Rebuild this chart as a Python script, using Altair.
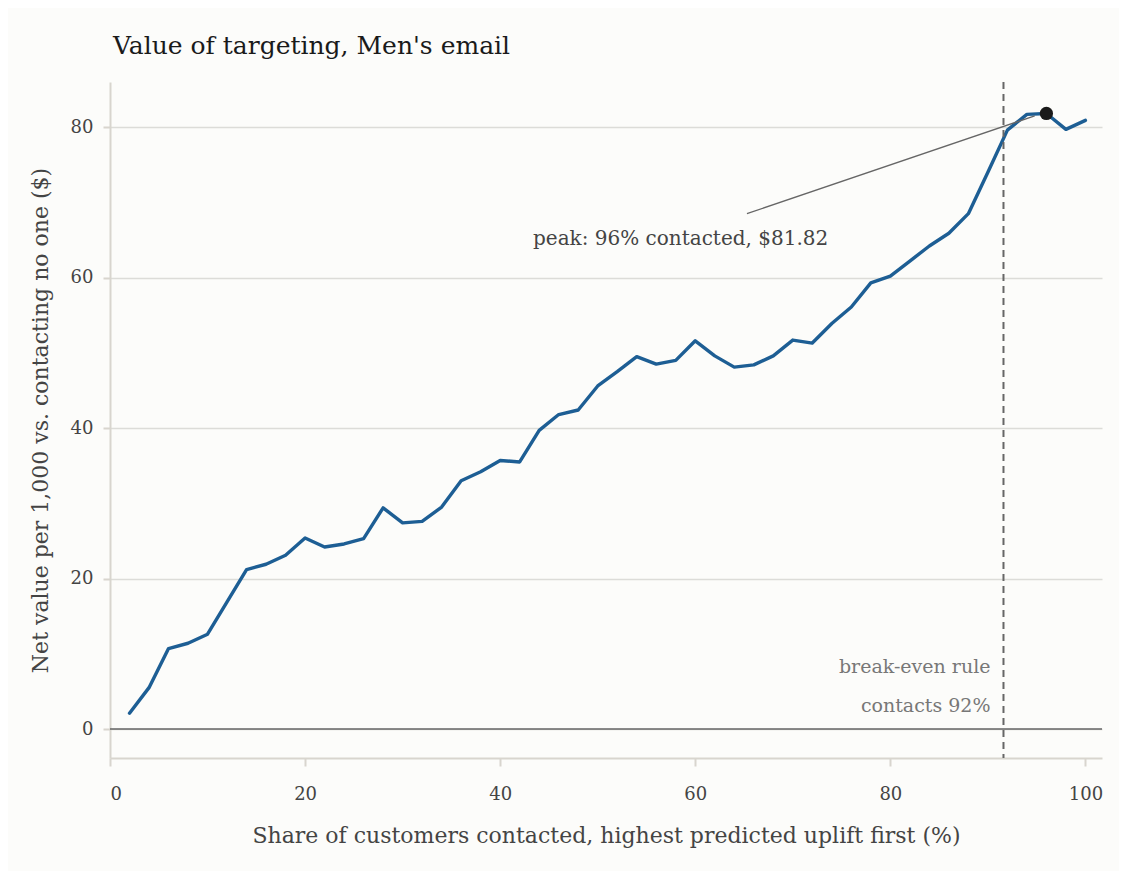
import altair as alt
import pandas as pd

share = list(range(2, 101, 2))
net_value = [2.1, 5.5, 10.7, 11.4, 12.6, 16.9, 21.2, 21.9, 23.1, 25.4,
             24.2, 24.6, 25.3, 29.4, 27.4, 27.6, 29.5, 33.0, 34.2, 35.7,
             35.5, 39.7, 41.8, 42.4, 45.6, 47.5, 49.5, 48.5, 49.0, 51.6,
             49.6, 48.1, 48.4, 49.6, 51.7, 51.3, 53.9, 56.1, 59.3, 60.2,
             62.2, 64.2, 65.9, 68.5, 74.0, 79.6, 81.7, 81.82, 79.7, 80.9]

peak_x = [96]
peak_y = [81.82]
breakeven_x = [91.6]
leader_x = [65.3]
leader_y = [68.5]
leader_x2 = [94.8]
leader_y2 = [81.5]

FONT = "DejaVu Serif"
BG = "#fcfcfa"

df = pd.DataFrame({"share": share, "value": net_value})

xs = alt.Scale(domain=[0, 101.7], nice=False, zero=False)
ys = alt.Scale(domain=[-3.85, 86], nice=False, zero=False)

base = alt.Chart(df)

line = base.mark_line(color="#1d5e94", strokeWidth=3.4, strokeJoin="round", strokeCap="round").encode(
    x=alt.X("share:Q", scale=xs,
            axis=alt.Axis(values=[0, 20, 40, 60, 80, 100], grid=False,
                          title="Share of customers contacted, highest predicted uplift first (%)",
                          tickSize=8, labelPadding=19, titlePadding=22)),
    y=alt.Y("value:Q", scale=ys,
            axis=alt.Axis(values=[0, 20, 40, 60, 80], grid=True,
                          title="Net value per 1,000 vs. contacting no one ($)",
                          tickSize=7, labelPadding=10, titlePadding=18)),
)

zero_df = pd.DataFrame({"y": [0]})
zero_rule = alt.Chart(zero_df).mark_rule(color="#666666", strokeWidth=1.6).encode(
    y=alt.Y("y:Q", scale=ys)
)

be_df = pd.DataFrame({"x": breakeven_x})
be_rule = alt.Chart(be_df).mark_rule(color="#666666", strokeWidth=2, strokeDash=[7, 5]).encode(
    x=alt.X("x:Q", scale=xs)
)

be_text_df = pd.DataFrame({"x": breakeven_x * 2, "y": [7.44, 2.26],
                           "t": ["break-even rule", "contacts 92%"]})
be_text = alt.Chart(be_text_df).mark_text(
    align="right", baseline="alphabetic", dx=-13, font=FONT, fontSize=19, color="#777777"
).encode(x=alt.X("x:Q", scale=xs), y=alt.Y("y:Q", scale=ys), text="t:N")

lead_df = pd.DataFrame({"x": leader_x, "y": leader_y, "x2": leader_x2, "y2": leader_y2})
leader = alt.Chart(lead_df).mark_rule(color="#666666", strokeWidth=1.3).encode(
    x=alt.X("x:Q", scale=xs), y=alt.Y("y:Q", scale=ys), x2="x2:Q", y2="y2:Q"
)

peak_df = pd.DataFrame({"x": peak_x, "y": peak_y})
peak_dot = alt.Chart(peak_df).mark_point(filled=True, color="#1a1a1a", size=175, opacity=1).encode(
    x=alt.X("x:Q", scale=xs), y=alt.Y("y:Q", scale=ys)
)

peak_text_df = pd.DataFrame({"x": [58.5], "y": [64.3], "t": ["peak: 96% contacted, $81.82"]})
peak_text = alt.Chart(peak_text_df).mark_text(
    align="center", baseline="alphabetic", font=FONT, fontSize=20, color="#444444"
).encode(x=alt.X("x:Q", scale=xs), y=alt.Y("y:Q", scale=ys), text="t:N")

chart = alt.layer(line, zero_rule, be_rule, be_text, leader, peak_dot, peak_text).properties(
    width=992, height=676,
    title=alt.TitleParams("Value of targeting, Men's email", anchor="start", frame="group",
                          font=FONT, fontSize=25, fontWeight="normal", color="#1a1a1a",
                          baseline="alphabetic", offset=2, dx=3),
    background=BG,
    autosize=alt.AutoSizeParams(type="none"),
    padding={"left": 102, "top": 74, "right": 17, "bottom": 113},
).configure_view(stroke=None).configure_axis(
    labelFont=FONT, titleFont=FONT, labelFontSize=18, titleFontSize=22,
    labelColor="#444444", titleColor="#444444", titleFontWeight="normal",
    domainColor="#d8d5ce", tickColor="#d8d5ce", gridColor="#dcdcd8", domainWidth=2, tickWidth=2,
    gridWidth=1.5,
)

chart.save("out.html", embed_options={"renderer": "svg", "actions": False})
